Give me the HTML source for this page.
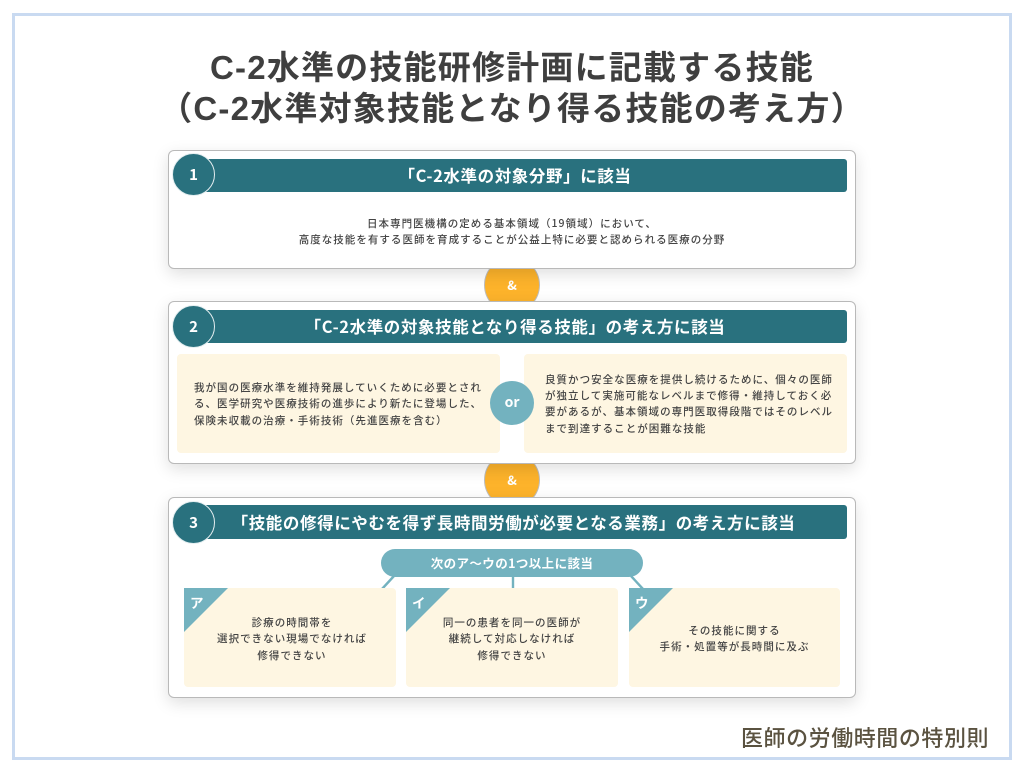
<!DOCTYPE html>
<html lang="ja"><head><meta charset="utf-8"><style>
html,body{margin:0;padding:0;background:#fff}
#p{position:relative;width:1024px;height:768px;overflow:hidden;background:#fff;font-family:"Liberation Sans","Noto Sans CJK JP",sans-serif}
#p *{box-sizing:border-box}
.a{position:absolute}
.frame{left:12px;top:13px;width:1000px;height:747px;border:3px solid #c9daf1}
.t{position:absolute;white-space:nowrap;text-align:center;font-family:"Noto Sans CJK JP",sans-serif}
.title{left:0;width:1024px;font-family:"Liberation Sans","Noto Sans CJK JP",sans-serif;font-size:33px;font-weight:700;color:#3f3f3f;line-height:40px;letter-spacing:1.2px}
.card{position:absolute;left:168px;width:688px;background:#fff;border:1px solid #b9b9b9;border-radius:6px;box-shadow:0 5px 16px rgba(0,0,0,.13)}
.bar{position:absolute;left:200px;width:647px;height:33px;background:#29717e;border-radius:3px}
.num{position:absolute;left:172px;width:43px;height:43px;border-radius:50%;background:#29717e;border:1px solid #e4eef0;color:#fff;font:700 15px/41px "Noto Sans CJK JP",sans-serif;text-align:center}
.h{color:#fff;font-weight:700;font-size:16.5px;line-height:20px;letter-spacing:.6px;filter:blur(.25px)}
.amp{position:absolute;left:484px;width:56px;height:56px;border-radius:50%;background:#fdb32b;border:1px solid #bdbdbd;color:#fff;text-align:center;font:700 13px/54px "Noto Sans CJK JP",sans-serif}
.y{position:absolute;background:#fef6e2;border-radius:4px}
.b{color:#444;font-weight:500;font-size:10.5px;line-height:16.4px;letter-spacing:1.03px;filter:blur(.3px)}
.l{text-align:left}
.tri{position:absolute;width:44px;height:44px;background:#73b2bf;clip-path:polygon(0 0,100% 0,0 100%)}
.k{color:#fff;font-weight:700;font-size:13.5px;line-height:16px}
</style></head><body><div id="p">
<div class="a frame"></div>
<div class="t title" style="top:48px">C-2水準の技能研修計画に記載する技能</div>
<div class="t title" style="top:89px">（C-2水準対象技能となり得る技能の考え方）</div>

<div class="amp" style="top:257px">&amp;</div>
<div class="amp" style="top:452px">&amp;</div>

<div class="card" style="top:150px;height:119px"></div>
<div class="bar" style="top:159px"></div>
<div class="num" style="top:153px">1</div>
<div class="t h" style="top:165px;left:200px;width:630px">「C-2水準の対象分野」に該当</div>
<div class="t b" style="top:216px;left:168px;width:688px">日本専門医機構の定める基本領域（19領域）において、</div>
<div class="t b" style="top:232px;left:168px;width:688px">高度な技能を有する医師を育成することが公益上特に必要と認められる医療の分野</div>

<div class="card" style="top:301px;height:163px"></div>
<div class="bar" style="top:310px"></div>
<div class="num" style="top:305px">2</div>
<div class="t h" style="top:316px;left:200px;width:630px">「C-2水準の対象技能となり得る技能」の考え方に該当</div>
<div class="y" style="left:177px;top:354px;width:323px;height:99px"></div>
<div class="y" style="left:524px;top:354px;width:323px;height:99px"></div>
<div class="t b l" style="left:194px;top:380px">我が国の医療水準を維持発展していくために必要とされ</div>
<div class="t b l" style="left:194px;top:396px">る、医学研究や医療技術の進歩により新たに登場した、</div>
<div class="t b l" style="left:194px;top:413px">保険未収載の治療・手術技術（先進医療を含む）</div>
<div class="t b l" style="left:545px;top:372px">良質かつ安全な医療を提供し続けるために、個々の医師</div>
<div class="t b l" style="left:545px;top:388px">が独立して実施可能なレベルまで修得・維持しておく必</div>
<div class="t b l" style="left:545px;top:404px">要があるが、基本領域の専門医取得段階ではそのレベル</div>
<div class="t b l" style="left:545px;top:421px">まで到達することが困難な技能</div>
<div class="a" style="left:490px;top:381px;width:44px;height:44px;border-radius:50%;background:#73b2bf;color:#fff;text-align:center;font:700 14px/42px 'Noto Sans CJK JP',sans-serif">or</div>

<div class="card" style="top:497px;height:201px"></div>
<div class="bar" style="top:505px;height:34px"></div>
<div class="num" style="top:501px">3</div>
<div class="t h" style="top:512px;left:200px;width:627px">「技能の修得にやむを得ず長時間労働が必要となる業務」の考え方に該当</div>

<svg class="a" style="left:0;top:0" width="1024" height="768"><g stroke="#73b2bf" stroke-width="2.4" fill="none"><path d="M382 589L394 576M513 576V589M631 576L643 589"/></g></svg>
<div class="a" style="left:381px;top:549px;width:262px;height:28px;border-radius:14px;background:#73b2bf"></div>
<div class="t k" style="left:381px;top:555px;width:262px;font-size:12.5px;letter-spacing:.4px">次のア～ウの1つ以上に該当</div>

<div class="y" style="left:184px;top:588px;width:212px;height:99px"></div>
<div class="y" style="left:406px;top:588px;width:212px;height:99px"></div>
<div class="y" style="left:629px;top:588px;width:211px;height:99px"></div>
<div class="tri" style="left:184px;top:588px"></div>
<div class="tri" style="left:406px;top:588px"></div>
<div class="tri" style="left:629px;top:588px"></div>
<div class="t k" style="left:190px;top:594px">ア</div>
<div class="t k" style="left:412px;top:594px">イ</div>
<div class="t k" style="left:635px;top:594px">ウ</div>

<div class="t b" style="left:186px;width:212px;top:615px">診療の時間帯を</div>
<div class="t b" style="left:186px;width:212px;top:631px">選択できない現場でなければ</div>
<div class="t b" style="left:186px;width:212px;top:648px">修得できない</div>
<div class="t b" style="left:406px;width:212px;top:615px">同一の患者を同一の医師が</div>
<div class="t b" style="left:406px;width:212px;top:631px">継続して対応しなければ</div>
<div class="t b" style="left:406px;width:212px;top:648px">修得できない</div>
<div class="t b" style="left:629px;width:211px;top:623px">その技能に関する</div>
<div class="t b" style="left:629px;width:211px;top:639px">手術・処置等が長時間に及ぶ</div>

<div class="t" style="left:741px;top:721px;font-size:22px;line-height:32px;font-weight:500;color:#5a5240;letter-spacing:.55px">医師の労働時間の特別則</div>
</div></body></html>
